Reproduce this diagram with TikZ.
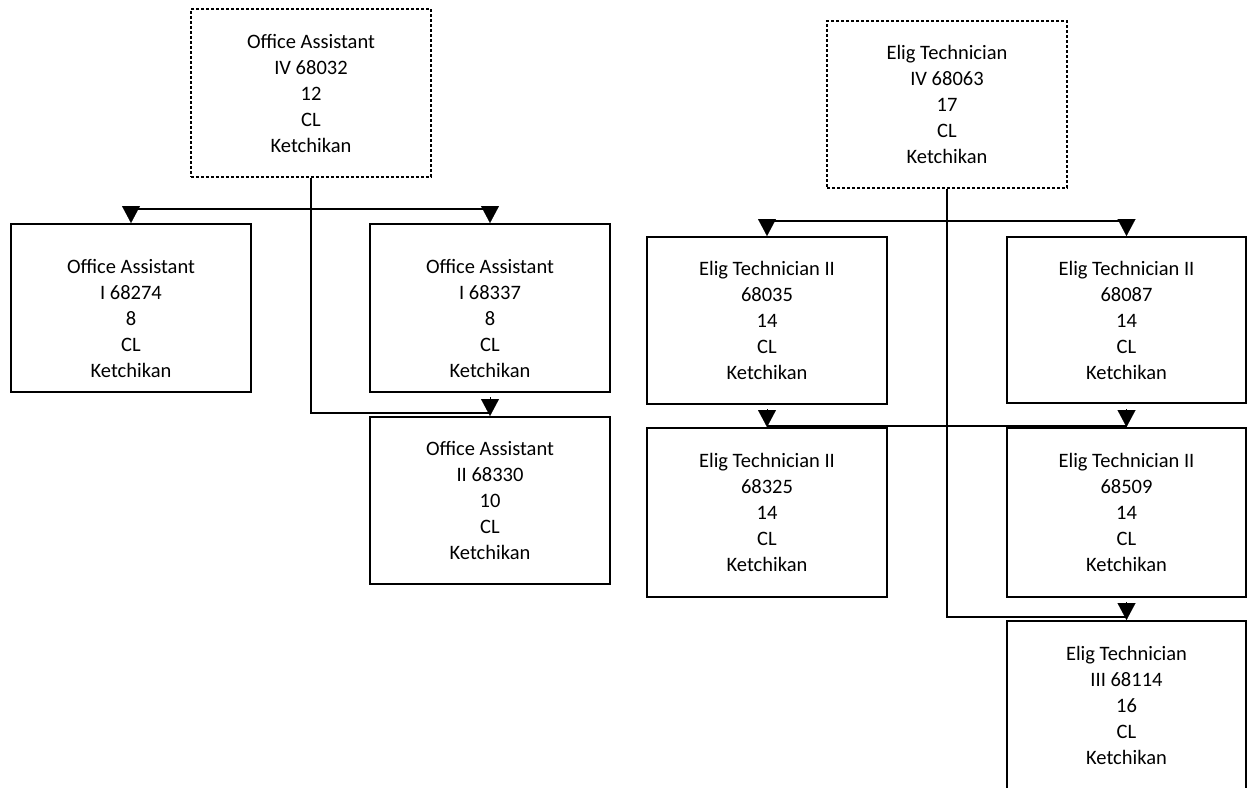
\documentclass[tikz,border=0pt]{standalone}
\usepackage{fontspec}
\setmainfont{Carlito}
\usetikzlibrary{arrows.meta}
\begin{document}
\begin{tikzpicture}[x=1pt,y=-1pt,
  box/.style={draw, line width=2pt, minimum width=240pt, minimum height=168pt,
    inner sep=0pt, align=center, font=\fontsize{20.5}{26}\selectfont},
  dbox/.style={box, line width=1.6pt, dash pattern=on 3pt off 2pt},
  txt/.style={inner sep=0pt, align=center, font=\fontsize{20.5}{26}\selectfont},
  conn/.style={line width=2.4pt, line join=miter},
  tip/.style={-{Triangle[width=18pt,length=17pt]}, line width=0.1pt}]
\useasboundingbox (0,0) rectangle (1247,787);
\clip (0,0) rectangle (1247,787);
% left tree
\node[dbox] (oa4) at (311,93) {Office Assistant\\IV 68032\\12\\CL\\Ketchikan};
\node[box] (oa1) at (131,308) {};
\node[txt] (oa1t) at ([yshift=-10pt]oa1.center) {Office Assistant\\I 68274\\8\\CL\\Ketchikan};
\node[box] (oa2) at (490,308) {};
\node[txt] (oa2t) at ([yshift=-10pt]oa2.center) {Office Assistant\\I 68337\\8\\CL\\Ketchikan};
\node[box, minimum height=167pt] (oa3) at (490,500.5) {Office Assistant\\II 68330\\10\\CL\\Ketchikan};
\coordinate (lbar) at (0,209);
\coordinate (lturn) at (0,413);
\draw[conn] (oa1.north |- lbar) -- (oa2.north |- lbar);
\draw[conn] (oa4.south) |- (oa3.north |- lturn);
\draw[tip] ([yshift=17pt]oa1.north) -- (oa1.north);
\draw[tip] ([yshift=17pt]oa2.north) -- (oa2.north);
\draw[tip] ([yshift=19pt]oa3.north) -- (oa3.north);
% right tree
\node[dbox, minimum height=167pt] (et4) at (947,104.5) {Elig Technician\\IV 68063\\17\\CL\\Ketchikan};
\node[box, minimum height=167pt] (e1) at (767,320.5) {Elig Technician II\\68035\\14\\CL\\Ketchikan};
\node[box, minimum width=239pt, minimum height=166pt] (e2) at (1126.5,320) {Elig Technician II\\68087\\14\\CL\\Ketchikan};
\node[box, minimum height=169pt] (e3) at (767,512.5) {Elig Technician II\\68325\\14\\CL\\Ketchikan};
\node[box, minimum width=239pt, minimum height=169pt] (e4) at (1126.5,512.5) {Elig Technician II\\68509\\14\\CL\\Ketchikan};
\node[box, minimum width=239pt, minimum height=168pt] (e5) at (1126.5,705) {Elig Technician\\III 68114\\16\\CL\\Ketchikan};
\coordinate (rbar1) at (0,221);
\coordinate (rbar2) at (0,426);
\coordinate (rturn) at (0,617);
\draw[conn] (e1.north |- rbar1) -- (e2.north |- rbar1);
\draw[conn] (e3.north |- rbar2) -- (e4.north |- rbar2);
\draw[conn] (et4.south) |- (e5.north |- rturn);
\draw[tip] ([yshift=17pt]e1.north) -- (e1.north);
\draw[tip] ([yshift=17pt]e2.north) -- (e2.north);
\draw[tip] ([yshift=18pt]e3.north) -- (e3.north);
\draw[tip] ([yshift=18pt]e4.north) -- (e4.north);
\draw[tip] ([yshift=18pt]e5.north) -- (e5.north);
\end{tikzpicture}
\end{document}
